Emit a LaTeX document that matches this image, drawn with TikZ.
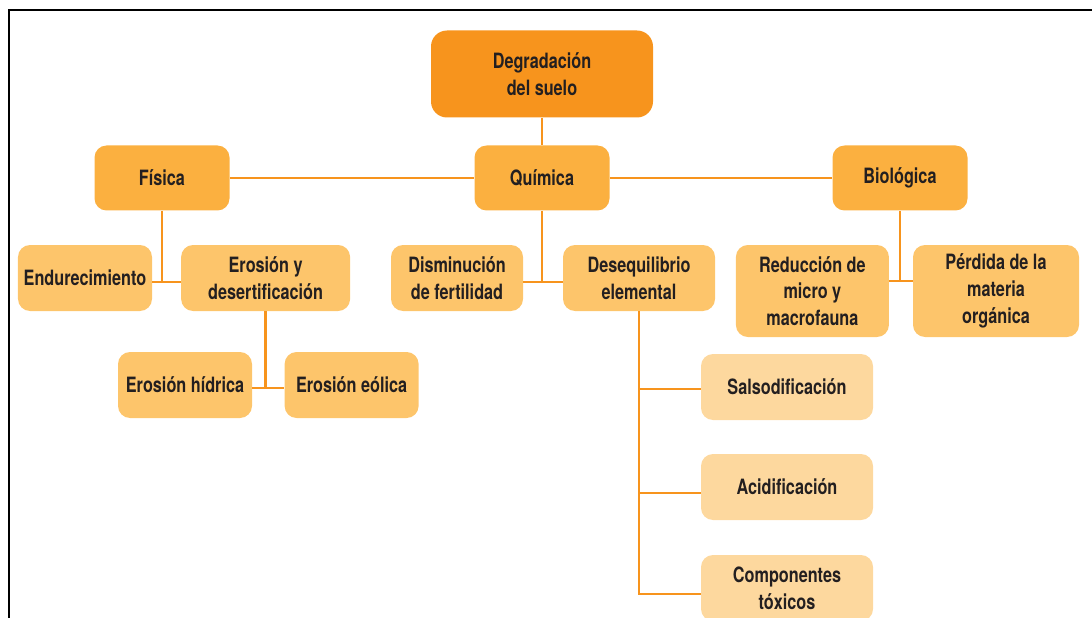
\documentclass[tikz,border=0pt]{standalone}
\usepackage{fontspec}
\setmainfont{TeX Gyre Heros}[FakeStretch=0.77]
\usetikzlibrary{positioning}

\definecolor{rootorange}{HTML}{F7941D}
\definecolor{midorange}{HTML}{FBB040}
\definecolor{softorange}{HTML}{FDC56B}
\definecolor{paleorange}{HTML}{FDD89E}
\definecolor{linkorange}{HTML}{F7941D}
\definecolor{textgray}{HTML}{231F20}

\begin{document}
\begin{tikzpicture}[node distance=2.6cm, auto,
  every node/.style={font=\fontsize{15}{19}\selectfont\bfseries, text=textgray, align=center},
  root/.style={rectangle, rounded corners=0.4cm, fill=rootorange, minimum width=5.55cm, minimum height=2.175cm},
  branch/.style={rectangle, rounded corners=0.3cm, fill=midorange, minimum width=3.375cm, minimum height=1.625cm},
  leaf/.style={rectangle, rounded corners=0.3cm, fill=softorange, minimum width=3.35cm, minimum height=1.65cm, inner sep=2pt},
  subleaf/.style={leaf, fill=paleorange, minimum width=4.3cm},
  connector/.style={draw=linkorange, line width=1.7pt}
]
\useasboundingbox (0,0) rectangle (27.3,-15.45);

% frame
\draw [line width=1.6pt] (0.225,-15.45) -- (0.225,-0.25) -- (27.3,-0.25);

\node (suelo) [root] at (13.55,-1.85) {Degradación\\del suelo};
\node (quimica) [branch, below of=suelo] {Química};
\node (fisica) [branch, left of=quimica, xshift=-6.9cm] {Física};
\node (biologica) [branch, right of=quimica, xshift=6.35cm] {Biológica};

\node (endurec) [leaf, below of=fisica, xshift=-1.925cm, yshift=0.1cm] {Endurecimiento};
\node (erosion) [leaf, below of=fisica, xshift=2.59cm, yshift=0.1cm, minimum width=4.225cm] {Erosión y\\desertificación};
\node (disminucion) [leaf, below of=quimica, xshift=-2.125cm, yshift=0.1cm, minimum width=3.3cm] {Disminución\\de fertilidad};
\node (desequilibrio) [leaf, below of=quimica, xshift=2.425cm, yshift=0.1cm, minimum width=3.8cm] {Desequilibrio\\elemental};
\node (reduccion) [leaf, below of=biologica, xshift=-2.19cm, yshift=-0.225cm, minimum width=3.825cm, minimum height=2.3cm] {Reducción de\\micro y\\macrofauna};
\node (perdida) [leaf, below of=biologica, xshift=2.4cm, yshift=-0.225cm, minimum width=4.15cm, minimum height=2.3cm] {Pérdida de la\\materia\\orgánica};

\node (hidrica) [leaf, below of=erosion, xshift=-2.015cm, yshift=-0.075cm] {Erosión hídrica};
\node (eolica) [leaf, below of=erosion, xshift=2.15cm, yshift=-0.075cm] {Erosión eólica};

\node (salso) [subleaf, below of=desequilibrio, xshift=3.7cm, yshift=-0.125cm] {Salsodificación};
\node (acidif) [subleaf, below of=salso, yshift=0.1cm] {Acidificación};
\node (toxicos) [subleaf, below of=acidif, yshift=0.075cm] {Componentes\\tóxicos};

\draw [connector] (suelo) -- (quimica);
\draw [connector] (fisica) -- (quimica);
\draw [connector] (quimica) -- (biologica);

\draw [connector] (fisica.south) -- ([yshift=-0.1cm]fisica.south |- endurec.east);
\draw [connector] ([yshift=-0.1cm]endurec.east) -- ([yshift=-0.1cm]erosion.west);
\draw [connector] (quimica.south) -- ([yshift=-0.1cm]quimica.south |- disminucion.east);
\draw [connector] ([yshift=-0.1cm]disminucion.east) -- ([yshift=-0.1cm]desequilibrio.west);
\draw [connector] (biologica.south) -- ([yshift=0.25cm]biologica.south |- reduccion.east);
\draw [connector] ([yshift=0.25cm]reduccion.east) -- ([yshift=0.25cm]perdida.west);

\draw [connector] (erosion.south) -- ([yshift=-0.075cm]erosion.south |- hidrica.east);
\draw [connector] ([yshift=-0.075cm]hidrica.east) -- ([yshift=-0.075cm]eolica.west);

\draw [connector] (desequilibrio.south) |- ([yshift=-0.15cm]toxicos.west);
\draw [connector] ([yshift=-0.05cm]desequilibrio.south |- salso.west) -- ([yshift=-0.05cm]salso.west);
\draw [connector] ([yshift=-0.15cm]desequilibrio.south |- acidif.west) -- ([yshift=-0.15cm]acidif.west);

\end{tikzpicture}
\end{document}
